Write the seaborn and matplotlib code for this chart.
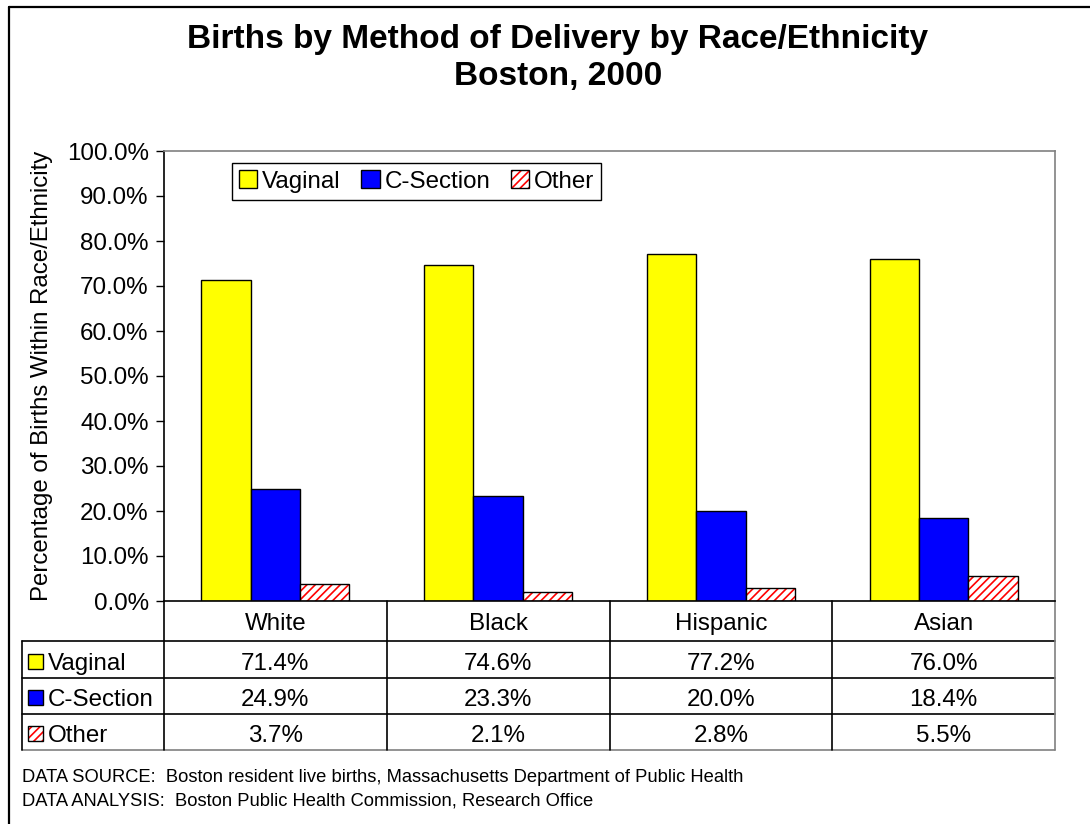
import matplotlib
matplotlib.use("Agg")
import matplotlib.pyplot as plt
from matplotlib.patches import Patch, Rectangle
from matplotlib.lines import Line2D
from matplotlib.colors import to_rgba
from matplotlib.ticker import FuncFormatter
import matplotlib.transforms as mtransforms
import seaborn as sns
import pandas as pd

# Data
races = ["White", "Black", "Hispanic", "Asian"]
methods = ["Vaginal", "C-Section", "Other"]
vaginal = [71.4, 74.6, 77.2, 76.0]
c_section = [24.9, 23.3, 20.0, 18.4]
other = [3.7, 2.1, 2.8, 5.5]
y_ticks = [0, 10, 20, 30, 40, 50, 60, 70, 80, 90, 100]

title = "Births by Method of Delivery by Race/Ethnicity\nBoston, 2000"
y_label = "Percentage of Births Within Race/Ethnicity"
footer = ["DATA SOURCE:  Boston resident live births, Massachusetts Department of Public Health",
          "DATA ANALYSIS:  Boston Public Health Commission, Research Office"]

series = {"Vaginal": vaginal, "C-Section": c_section, "Other": other}
df = pd.DataFrame([
    {"race": r, "method": m, "pct": series[m][i]}
    for m in methods for i, r in enumerate(races)
])

sns.set_theme(style="white")
plt.rcParams["font.family"] = ["Liberation Sans", "DejaVu Sans"]
plt.rcParams["hatch.linewidth"] = 1.2
for key in ["text.color", "axes.labelcolor", "xtick.color", "ytick.color"]:
    plt.rcParams[key] = "black"

W, H = 1090, 824
fig = plt.figure(figsize=(W / 100, H / 100), dpi=100)
fig.patch.set_facecolor("white")

# plot area in pixel coordinates
L, R, T, B = 164, 1055, 151, 601
ax = fig.add_axes([L / W, 1 - B / H, (R - L) / W, (B - T) / H])

colors = {"Vaginal": "#FFFF00", "C-Section": "#0000FF", "Other": "white"}
sns.barplot(data=df, x="race", y="pct", hue="method", order=races,
            hue_order=methods, palette=colors, width=0.665, saturation=1,
            edgecolor="black", linewidth=1.0, legend=False, ax=ax)

red = to_rgba("#FF0000")
for bar in ax.containers[2]:
    bar.set_hatch("////")
    bar._hatch_color = red

ax.set_xlim(-0.5, len(races) - 0.5)
ax.set_ylim(0, 100)
ax.set_yticks(y_ticks)
ax.yaxis.set_major_formatter(FuncFormatter(lambda v, p: f"{v:.1f}%"))
ax.tick_params(axis="y", which="major", direction="out", length=6, width=1,
               color="black", labelsize=17.4, pad=5, left=True)
ax.tick_params(axis="x", bottom=False, labelbottom=False)
ax.set_xlabel("")
ax.set_ylabel(y_label, fontsize=17.3, labelpad=10)
for side in ["top", "right"]:
    ax.spines[side].set_color("#808080")
    ax.spines[side].set_linewidth(1.2)
for side in ["left", "bottom"]:
    ax.spines[side].set_color("black")
    ax.spines[side].set_linewidth(1.2)

# legend
handles = [Patch(facecolor=colors[m], edgecolor="black", linewidth=1.0) for m in methods]
h3 = handles[2]
h3.set_hatch("////")
h3._hatch_color = red
leg = ax.legend(handles, methods, ncol=3, loc="upper left",
                bbox_to_anchor=((232 - L) / (R - L), (B - 163) / (B - T)),
                borderaxespad=0, fontsize=17.4, handlelength=0.75, handleheight=0.75,
                handletextpad=0.2, columnspacing=0.85, borderpad=0.3,
                fancybox=False, framealpha=1, edgecolor="black")
leg.get_frame().set_linewidth(1.0)

# data table below the plot area
def yfrac(py):
    return (B - py) / (B - T)

def xfrac(px):
    return (px - L) / (R - L)

tax = ax.transAxes
blend = mtransforms.blended_transform_factory(ax.transData, ax.transAxes)
row_edges = [601, 641, 678, 714, 750]
table_left = 22
col_edges = [L + i * (R - L) / len(races) for i in range(len(races) + 1)]

def hline(x0, x1, py, color="black"):
    ax.add_line(Line2D([xfrac(x0), xfrac(x1)], [yfrac(py), yfrac(py)], transform=tax,
                       color=color, lw=1.2, clip_on=False))

def vline(px, y0, y1, color="black"):
    ax.add_line(Line2D([xfrac(px), xfrac(px)], [yfrac(y0), yfrac(y1)], transform=tax,
                       color=color, lw=1.2, clip_on=False))

for py in row_edges[1:-1]:
    hline(table_left, R, py)
hline(table_left, R, row_edges[-1], color="#808080")
vline(table_left, row_edges[1], row_edges[-1])
for px in col_edges[:-1]:
    vline(px, row_edges[0], row_edges[-1])
vline(col_edges[-1], row_edges[0], row_edges[-1], color="#808080")

fs_table = 17.4
cap_half = 8.6  # half the cap height of the table font, in pixels
header_base = yfrac((row_edges[0] + row_edges[1]) / 2 + cap_half)
for i, r in enumerate(races):
    ax.text(i, header_base, r, transform=blend, ha="center", va="baseline",
            fontsize=fs_table, clip_on=False)

for j, m in enumerate(methods):
    cy = (row_edges[j + 1] + row_edges[j + 2]) / 2 + 1.5
    base = yfrac(cy + cap_half)
    for i, v in enumerate(series[m]):
        ax.text(i, base, f"{v:.1f}%", transform=blend, ha="center",
                va="baseline", fontsize=fs_table, clip_on=False)
    sq = 15
    rect = Rectangle((xfrac(28), yfrac(cy + sq / 2)), sq / (R - L), sq / (B - T),
                     transform=tax, facecolor=colors[m], edgecolor="black",
                     lw=1.0, clip_on=False)
    if m == "Other":
        rect.set_hatch("////")
    ax.add_patch(rect)
    if m == "Other":
        rect._hatch_color = red
    ax.text(xfrac(48), base, m, transform=tax, ha="left", va="baseline",
            fontsize=fs_table, clip_on=False)

# title
fig.text(558 / W, 1 - 58 / H, title, ha="center", va="center", fontsize=24,
         fontweight="bold", linespacing=1.27)

# footer
for k, line in enumerate(footer):
    fig.text(22 / W, 1 - (777 + 24 * k) / H, line, ha="left", va="center",
             fontsize=13.2)

# outer frame (top and left edges)
fig.add_artist(Line2D([8.5 / W, 1], [1 - 6.5 / H, 1 - 6.5 / H], transform=fig.transFigure,
                      color="black", lw=1.6))
fig.add_artist(Line2D([8.5 / W, 8.5 / W], [0, 1 - 6.5 / H], transform=fig.transFigure,
                      color="black", lw=1.6))

fig.savefig("out.png", dpi=100, facecolor="white")
